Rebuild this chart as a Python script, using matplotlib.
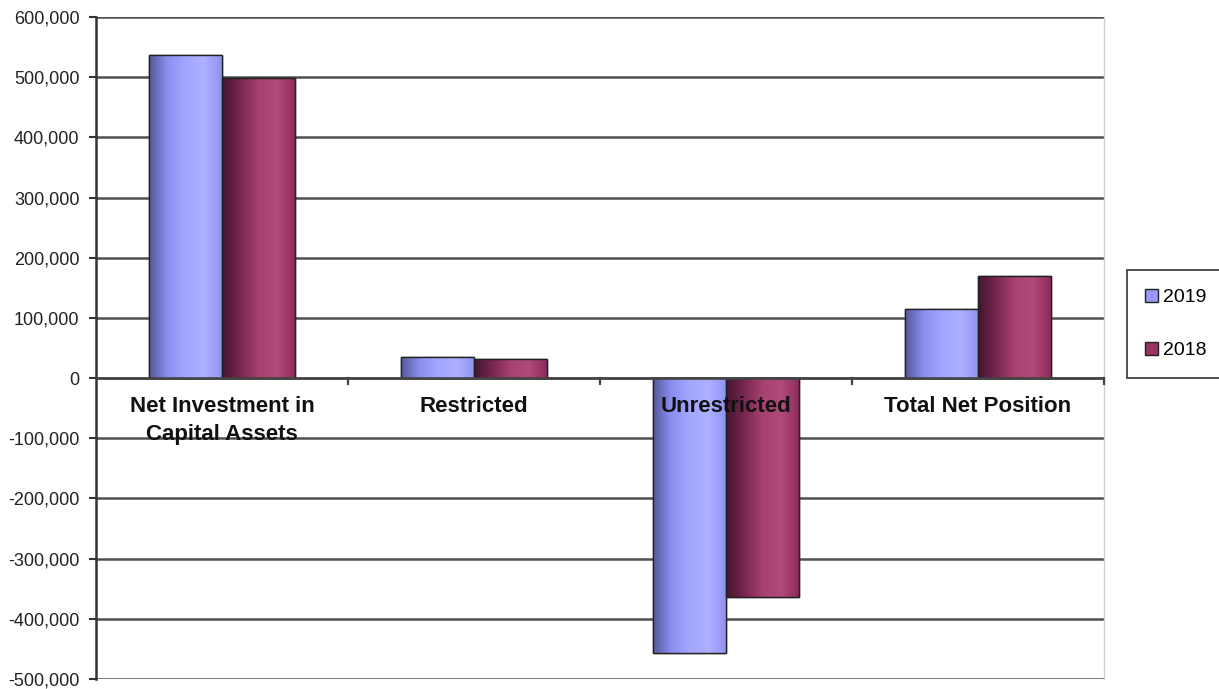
import numpy as np
import matplotlib
matplotlib.use("Agg")
import matplotlib.pyplot as plt
from matplotlib.colors import LinearSegmentedColormap
from matplotlib.ticker import FuncFormatter, MultipleLocator

categories = ["Net Investment in\nCapital Assets", "Restricted", "Unrestricted", "Total Net Position"]
years = ["2019", "2018"]
values_2019 = [537000, 35000, -457000, 115000]
values_2018 = [499000, 32000, -363000, 170000]

plt.rcParams['font.family'] = ['Liberation Sans', 'DejaVu Sans']

fig = plt.figure(figsize=(12.19, 6.89), dpi=100)
ax = fig.add_axes([0.0788, 0.0145, 0.8269, 0.9608])

x = np.arange(len(categories))
w = 0.29

# horizontal shading like the old excel cylinders
cmap_2019 = LinearSegmentedColormap.from_list("c19", ["#55599a", "#8c8ff0", "#a4a6ff", "#aeb0ff", "#8f90f0"])
cmap_2018 = LinearSegmentedColormap.from_list("c18", ["#43162c", "#7a2652", "#a8426f", "#b04a7a", "#8a2a5a"])

bars19 = ax.bar(x - w / 2, values_2019, w, color="#9999ff", edgecolor="#222222", linewidth=1, label=years[0], zorder=3)
bars18 = ax.bar(x + w / 2, values_2018, w, color="#993366", edgecolor="#222222", linewidth=1, label=years[1], zorder=3)

grad = np.linspace(0, 1, 256).reshape(1, -1)
for bars, cm in [(bars19, cmap_2019), (bars18, cmap_2018)]:
    for b in bars:
        x0, y0 = b.get_x(), b.get_y()
        bw, bh = b.get_width(), b.get_height()
        im = ax.imshow(grad, cmap=cm, aspect='auto', extent=[x0, x0 + bw, y0, y0 + bh],
                       zorder=3.5, interpolation='bilinear')
        im.set_clip_path(b)
        ax.add_patch(plt.Rectangle((x0, y0), bw, bh, fill=False, edgecolor="#222222", linewidth=1, zorder=4))

ax.set_xlim(-0.5, len(categories) - 0.5)
ax.set_ylim(-500000, 600000)
ax.yaxis.set_major_locator(MultipleLocator(100000))
ax.yaxis.set_major_formatter(FuncFormatter(lambda v, p: "{:,.0f}".format(v)))
ax.grid(axis='y', color="#505050", linewidth=1.8, zorder=1)
ax.tick_params(axis='y', labelsize=13, length=5, width=1.5, color="#333333", pad=7, labelcolor="#222222")
ax.set_xticks([])

for s in ['top', 'bottom']:
    ax.spines[s].set_visible(False)
ax.spines['left'].set_color("#333333")
ax.spines['left'].set_linewidth(1.8)
ax.spines['right'].set_color("#d0d0d0")
ax.spines['right'].set_linewidth(1)

# zero line with category boundary ticks
ax.axhline(0, color="#444444", linewidth=1.8, zorder=5)
for b in np.arange(0.5, len(categories), 1.0):
    ax.plot([b, b], [0, -10000], color="#444444", linewidth=1.6, zorder=5, clip_on=False)

for i, c in enumerate(categories):
    ax.annotate(c, (x[i], 0), xytext=(0, -13), textcoords='offset points', ha='center', va='top',
                fontsize=16, fontweight='bold', color="#111111", linespacing=1.4, zorder=6)

leg = fig.legend(handles=[bars19, bars18], labels=years, loc='upper left', bbox_to_anchor=(0.9245, 0.608),
                 frameon=True, fancybox=False, fontsize=14, handlelength=0.65, handleheight=0.65,
                 handletextpad=0.25, labelspacing=1.85, borderpad=0.95, borderaxespad=0, edgecolor="#000000")
leg.get_frame().set_linewidth(1.2)

fig.savefig("out.png", dpi=100)
